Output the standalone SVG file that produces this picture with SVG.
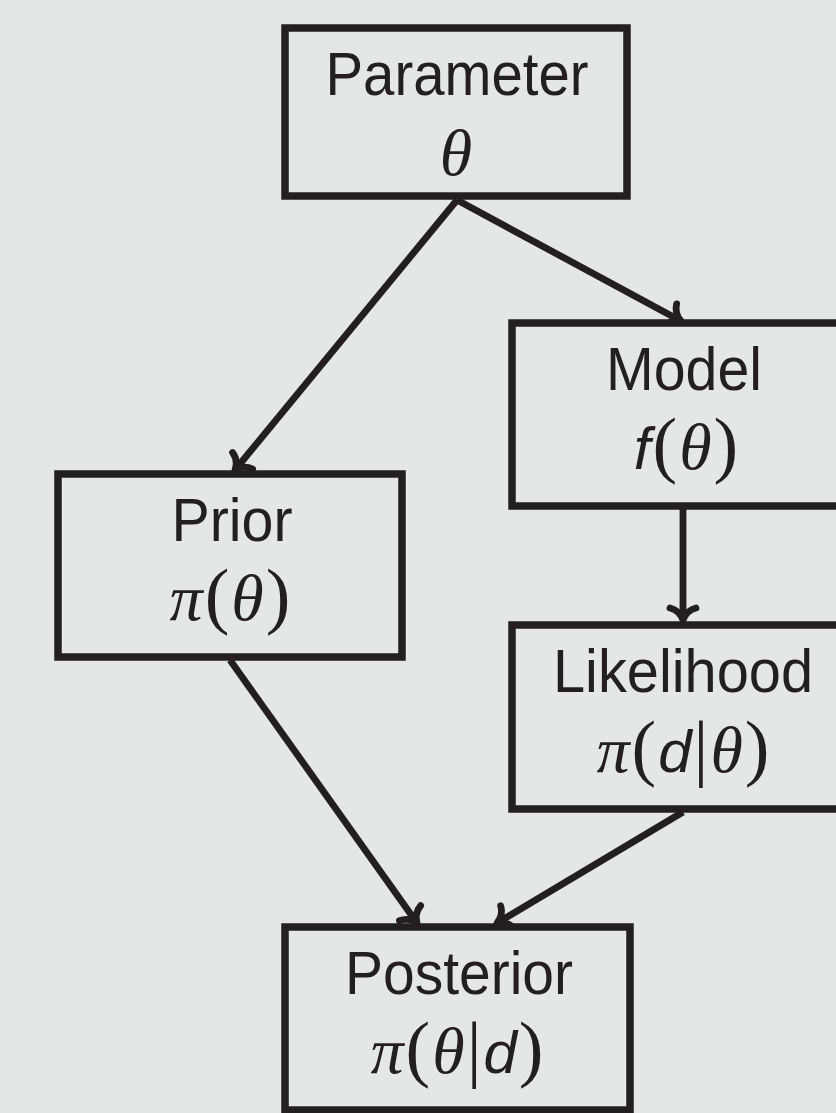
<svg xmlns="http://www.w3.org/2000/svg" width="836" height="1113" viewBox="0 0 836 1113">
<defs>
<style>
.bg{fill:#e5e6e6}
.box{fill:#e5e6e6;stroke:#231f20;stroke-width:7.5}
.edge{stroke:#231f20;stroke-width:6.8;fill:none}
.lbl{font-family:"Liberation Sans",Arial,sans-serif;font-size:62px;fill:#231f20;text-anchor:middle}
.math{font-family:"Liberation Serif","Times New Roman",serif;font-size:66px;fill:#231f20;text-anchor:middle;letter-spacing:2px}
.it{font-style:italic}
.sit{font-family:"Liberation Sans",Arial,sans-serif;font-style:italic;font-size:60px}
.par{font-size:74px}
</style>
<marker id="ah" markerUnits="userSpaceOnUse" viewBox="-20 -20 40 40" markerWidth="40" markerHeight="40" refX="0" refY="0" orient="auto" overflow="visible">
<path d="M -12,-13 C -10,-5 -4,-1.5 0,0 C -4,1.5 -10,5 -12,13" fill="none" stroke="#231f20" stroke-width="6.8" stroke-linecap="round" stroke-linejoin="round"/>
</marker>
</defs>
<rect class="bg" x="0" y="0" width="836" height="1113"/>
<g id="connectors">
<line class="edge" x1="457" y1="200" x2="235" y2="470" marker-end="url(#ah)"/>
<line class="edge" x1="457" y1="200" x2="681" y2="321" marker-end="url(#ah)"/>
<line class="edge" x1="683" y1="509" x2="683" y2="620" marker-end="url(#ah)"/>
<line class="edge" x1="230" y1="660" x2="417" y2="923" marker-end="url(#ah)"/>
<line class="edge" x1="683" y1="812" x2="497" y2="923" marker-end="url(#ah)"/>
</g>
<g id="parameter">
<rect class="box" x="285" y="28" width="342" height="168"/>
<text class="lbl" x="457" y="95" textLength="263" lengthAdjust="spacingAndGlyphs">Parameter</text>
<text class="math it" x="457" y="175">θ</text>
</g>
<g id="model">
<rect class="box" x="512" y="323" width="344" height="183"/>
<text class="lbl" x="684" y="390" textLength="156" lengthAdjust="spacingAndGlyphs">Model</text>
<text class="math" x="687" y="469"><tspan class="sit">f</tspan><tspan class="par">(</tspan><tspan class="it">θ</tspan><tspan class="par">)</tspan></text>
</g>
<g id="prior">
<rect class="box" x="58" y="474" width="344" height="183"/>
<text class="lbl" x="232" y="541" textLength="121" lengthAdjust="spacingAndGlyphs">Prior</text>
<text class="math" x="231" y="620"><tspan class="it">π</tspan><tspan class="par">(</tspan><tspan class="it">θ</tspan><tspan class="par">)</tspan></text>
</g>
<g id="likelihood">
<rect class="box" x="512" y="625" width="344" height="184"/>
<text class="lbl" x="683" y="692" textLength="260" lengthAdjust="spacingAndGlyphs">Likelihood</text>
<text class="math" x="684" y="772"><tspan class="it">π</tspan><tspan class="par">(</tspan><tspan class="sit">d</tspan><tspan class="par">|</tspan><tspan class="it">θ</tspan><tspan class="par">)</tspan></text>
</g>
<g id="posterior">
<rect class="box" x="285" y="927" width="345" height="183"/>
<text class="lbl" x="459" y="994" textLength="228" lengthAdjust="spacingAndGlyphs">Posterior</text>
<text class="math" x="458" y="1073"><tspan class="it">π</tspan><tspan class="par">(</tspan><tspan class="it">θ</tspan><tspan class="par">|</tspan><tspan class="sit">d</tspan><tspan class="par">)</tspan></text>
</g>
</svg>
